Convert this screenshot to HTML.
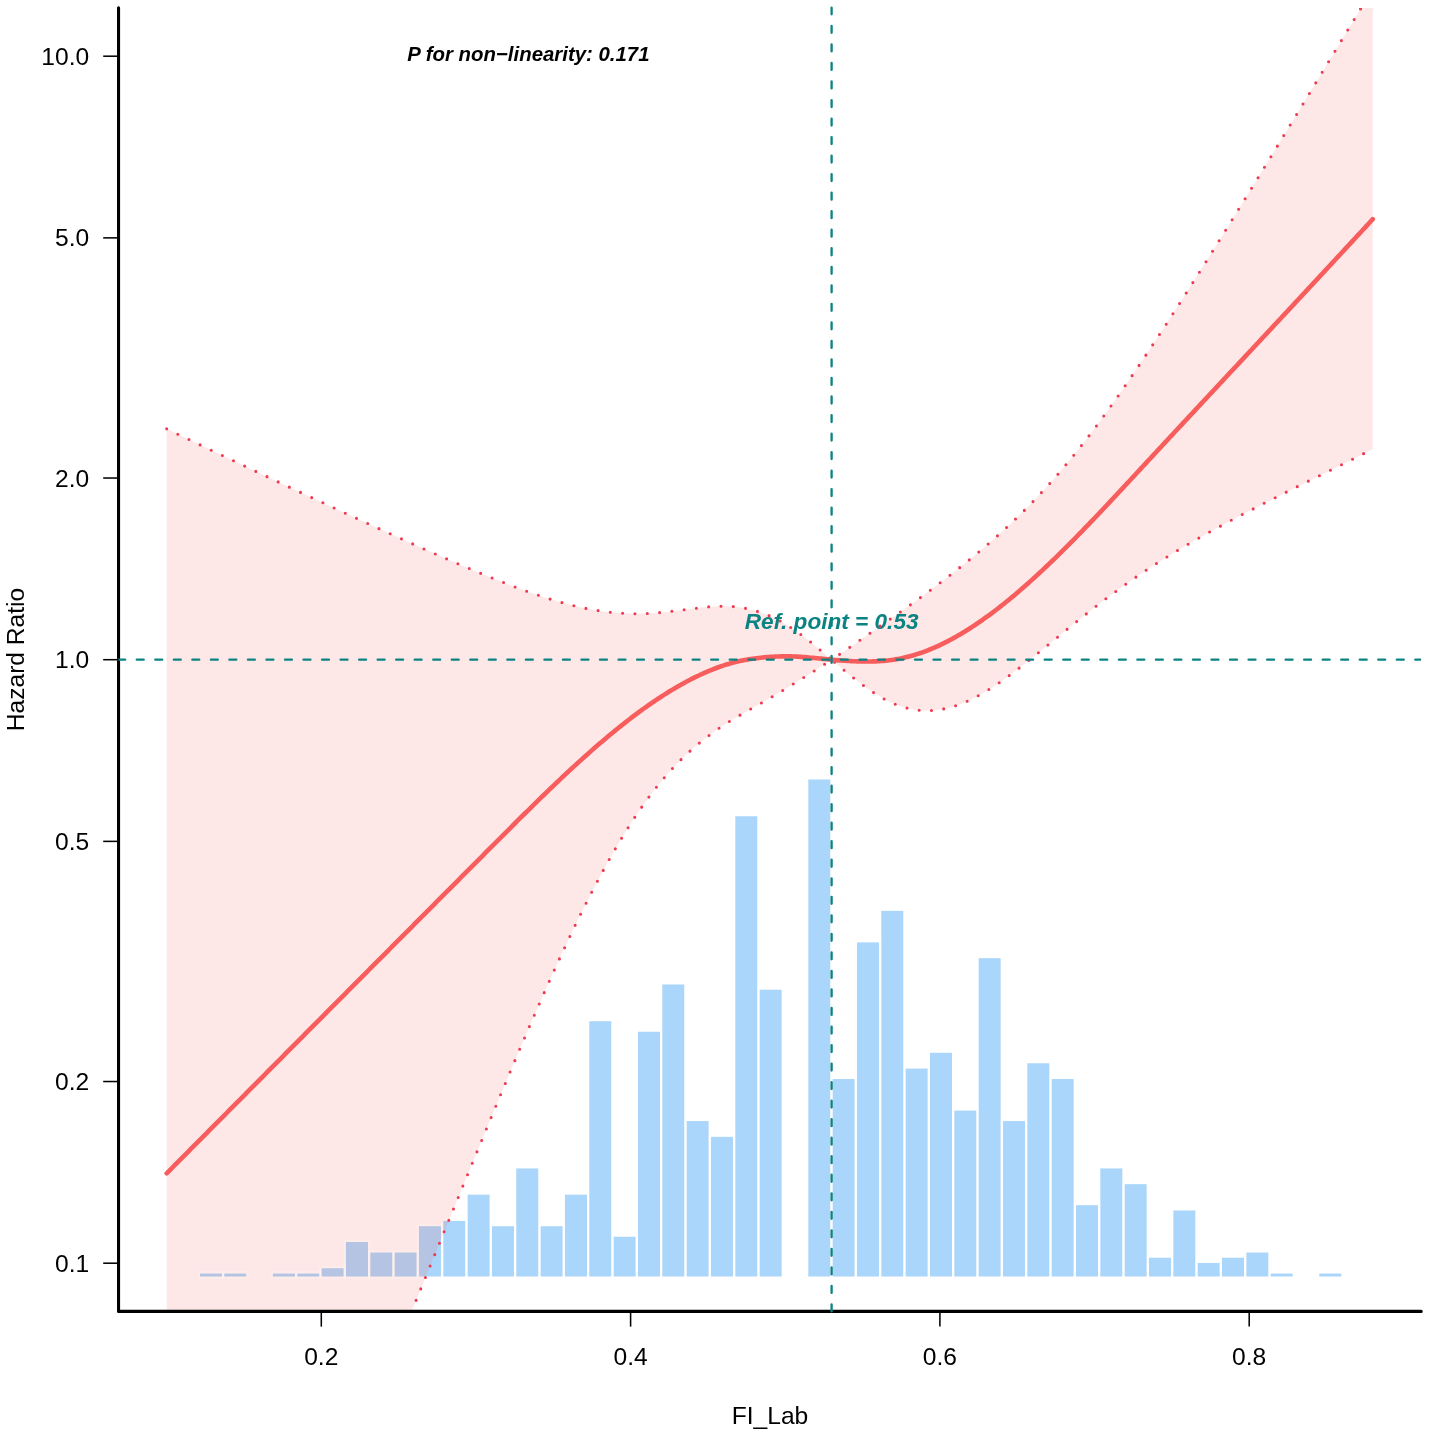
<!DOCTYPE html>
<html><head><meta charset="utf-8"><title>RCS Hazard Ratio</title>
<style>
html,body{margin:0;padding:0;background:#fff}
svg{display:block;will-change:transform}
text{font-family:"Liberation Sans",sans-serif}
</style></head>
<body>
<svg width="1429" height="1435" viewBox="0 0 1429 1435">
<rect width="1429" height="1435" fill="#fff"/>
<defs><clipPath id="plot"><rect x="118.55" y="7.90" width="1302.65" height="1303.50"/></clipPath></defs>
<g fill="#A9D6FA"><rect x="199.90" y="1273.50" width="22.05" height="3.05"/><rect x="224.24" y="1273.50" width="22.05" height="3.05"/><rect x="272.90" y="1273.50" width="22.05" height="3.05"/><rect x="297.24" y="1273.50" width="22.05" height="3.05"/><rect x="321.58" y="1268.24" width="22.05" height="8.31"/><rect x="345.91" y="1241.96" width="22.05" height="34.59"/><rect x="370.25" y="1252.48" width="22.05" height="24.07"/><rect x="394.58" y="1252.48" width="22.05" height="24.07"/><rect x="418.92" y="1226.20" width="22.05" height="50.35"/><rect x="443.25" y="1220.94" width="22.05" height="55.61"/><rect x="467.59" y="1194.66" width="22.05" height="81.89"/><rect x="491.92" y="1226.20" width="22.05" height="50.35"/><rect x="516.25" y="1168.38" width="22.05" height="108.17"/><rect x="540.59" y="1226.20" width="22.05" height="50.35"/><rect x="564.93" y="1194.66" width="22.05" height="81.89"/><rect x="589.26" y="1021.21" width="22.05" height="255.34"/><rect x="613.60" y="1236.71" width="22.05" height="39.84"/><rect x="637.93" y="1031.72" width="22.05" height="244.83"/><rect x="662.26" y="984.42" width="22.05" height="292.13"/><rect x="686.60" y="1121.08" width="22.05" height="155.47"/><rect x="710.94" y="1136.84" width="22.05" height="139.71"/><rect x="735.27" y="816.23" width="22.05" height="460.32"/><rect x="759.61" y="989.68" width="22.05" height="286.87"/><rect x="808.27" y="779.44" width="22.05" height="497.11"/><rect x="832.61" y="1079.03" width="22.05" height="197.52"/><rect x="856.95" y="942.37" width="22.05" height="334.18"/><rect x="881.28" y="910.84" width="22.05" height="365.71"/><rect x="905.62" y="1068.52" width="22.05" height="208.03"/><rect x="929.95" y="1052.75" width="22.05" height="223.80"/><rect x="954.28" y="1110.56" width="22.05" height="165.99"/><rect x="978.62" y="958.14" width="22.05" height="318.41"/><rect x="1002.96" y="1121.08" width="22.05" height="155.47"/><rect x="1027.29" y="1063.26" width="22.05" height="213.29"/><rect x="1051.62" y="1079.03" width="22.05" height="197.52"/><rect x="1075.96" y="1205.17" width="22.05" height="71.38"/><rect x="1100.30" y="1168.38" width="22.05" height="108.17"/><rect x="1124.63" y="1184.15" width="22.05" height="92.40"/><rect x="1148.97" y="1257.73" width="22.05" height="18.82"/><rect x="1173.30" y="1210.43" width="22.05" height="66.12"/><rect x="1197.63" y="1262.99" width="22.05" height="13.56"/><rect x="1221.97" y="1257.73" width="22.05" height="18.82"/><rect x="1246.31" y="1252.48" width="22.05" height="24.07"/><rect x="1270.64" y="1273.50" width="22.05" height="3.05"/><rect x="1319.31" y="1273.50" width="22.05" height="3.05"/></g>
<g clip-path="url(#plot)">
<path d="M166.70,428.87 L168.71,429.84 L170.73,430.81 L172.74,431.78 L174.75,432.75 L176.77,433.71 L178.78,434.68 L180.79,435.65 L182.81,436.62 L184.82,437.58 L186.84,438.55 L188.85,439.52 L190.86,440.48 L192.88,441.45 L194.89,442.41 L196.90,443.37 L198.92,444.34 L200.93,445.30 L202.94,446.26 L204.96,447.22 L206.97,448.18 L208.98,449.14 L211.00,450.11 L213.01,451.07 L215.02,452.02 L217.04,452.98 L219.05,453.94 L221.07,454.90 L223.08,455.86 L225.09,456.82 L227.11,457.77 L229.12,458.73 L231.13,459.69 L233.15,460.64 L235.16,461.60 L237.17,462.55 L239.19,463.51 L241.20,464.46 L243.21,465.41 L245.23,466.37 L247.24,467.32 L249.25,468.27 L251.27,469.22 L253.28,470.17 L255.29,471.13 L257.31,472.08 L259.32,473.03 L261.34,473.98 L263.35,474.93 L265.36,475.88 L267.38,476.82 L269.39,477.77 L271.40,478.72 L273.42,479.67 L275.43,480.61 L277.44,481.56 L279.46,482.51 L281.47,483.45 L283.48,484.40 L285.50,485.34 L287.51,486.29 L289.52,487.23 L291.54,488.18 L293.55,489.12 L295.57,490.06 L297.58,491.00 L299.59,491.95 L301.61,492.89 L303.62,493.83 L305.63,494.77 L307.65,495.71 L309.66,496.65 L311.67,497.59 L313.69,498.53 L315.70,499.46 L317.71,500.40 L319.73,501.34 L321.74,502.28 L323.75,503.21 L325.77,504.15 L327.78,505.08 L329.80,506.02 L331.81,506.95 L333.82,507.89 L335.84,508.82 L337.85,509.75 L339.86,510.68 L341.88,511.62 L343.89,512.55 L345.90,513.48 L347.92,514.41 L349.93,515.34 L351.94,516.26 L353.96,517.19 L355.97,518.12 L357.98,519.05 L360.00,519.97 L362.01,520.90 L364.03,521.82 L366.04,522.75 L368.05,523.67 L370.07,524.59 L372.08,525.51 L374.09,526.43 L376.11,527.35 L378.12,528.27 L380.13,529.19 L382.15,530.11 L384.16,531.02 L386.17,531.94 L388.19,532.85 L390.20,533.77 L392.21,534.68 L394.23,535.59 L396.24,536.50 L398.26,537.41 L400.27,538.32 L402.28,539.23 L404.30,540.13 L406.31,541.04 L408.32,541.94 L410.34,542.85 L412.35,543.75 L414.36,544.65 L416.38,545.55 L418.39,546.44 L420.40,547.34 L422.42,548.24 L424.43,549.13 L426.44,550.02 L428.46,550.91 L430.47,551.80 L432.48,552.69 L434.50,553.57 L436.51,554.46 L438.53,555.34 L440.54,556.22 L442.55,557.10 L444.57,557.98 L446.58,558.85 L448.59,559.73 L450.61,560.60 L452.62,561.47 L454.63,562.34 L456.65,563.20 L458.66,564.06 L460.67,564.92 L462.69,565.78 L464.70,566.64 L466.71,567.49 L468.73,568.34 L470.74,569.19 L472.76,570.04 L474.77,570.88 L476.78,571.72 L478.80,572.56 L480.81,573.39 L482.82,574.22 L484.84,575.05 L486.85,575.88 L488.86,576.70 L490.88,577.51 L492.89,578.33 L494.90,579.14 L496.92,579.95 L498.93,580.75 L500.94,581.54 L502.96,582.34 L504.97,583.13 L506.99,583.91 L509.00,584.69 L511.01,585.46 L513.03,586.23 L515.04,586.99 L517.05,587.74 L519.07,588.49 L521.08,589.24 L523.09,589.97 L525.11,590.70 L527.12,591.43 L529.13,592.14 L531.15,592.85 L533.16,593.55 L535.17,594.24 L537.19,594.93 L539.20,595.60 L541.22,596.27 L543.23,596.93 L545.24,597.58 L547.26,598.22 L549.27,598.85 L551.28,599.48 L553.30,600.09 L555.31,600.69 L557.32,601.28 L559.34,601.86 L561.35,602.43 L563.36,602.99 L565.38,603.54 L567.39,604.07 L569.40,604.59 L571.42,605.11 L573.43,605.60 L575.45,606.09 L577.46,606.56 L579.47,607.02 L581.49,607.47 L583.50,607.91 L585.51,608.32 L587.53,608.73 L589.54,609.12 L591.55,609.50 L593.57,609.86 L595.58,610.20 L597.59,610.54 L599.61,610.85 L601.62,611.15 L603.63,611.43 L605.65,611.70 L607.66,611.95 L609.67,612.19 L611.69,612.40 L613.70,612.60 L615.72,612.79 L617.73,612.95 L619.74,613.10 L621.76,613.24 L623.77,613.35 L625.78,613.45 L627.80,613.53 L629.81,613.59 L631.82,613.63 L633.84,613.66 L635.85,613.67 L637.86,613.66 L639.88,613.64 L641.89,613.60 L643.90,613.55 L645.92,613.47 L647.93,613.39 L649.95,613.28 L651.96,613.16 L653.97,613.03 L655.99,612.89 L658.00,612.73 L660.01,612.55 L662.03,612.37 L664.04,612.17 L666.05,611.96 L668.07,611.75 L670.08,611.52 L672.09,611.28 L674.11,611.04 L676.12,610.79 L678.13,610.54 L680.15,610.28 L682.16,610.01 L684.18,609.75 L686.19,609.48 L688.20,609.22 L690.22,608.95 L692.23,608.69 L694.24,608.43 L696.26,608.18 L698.27,607.94 L700.28,607.71 L702.30,607.48 L704.31,607.27 L706.32,607.08 L708.34,606.90 L710.35,606.73 L712.36,606.59 L714.38,606.47 L716.39,606.37 L718.41,606.29 L720.42,606.24 L722.43,606.22 L724.45,606.22 L726.46,606.26 L728.47,606.32 L730.49,606.42 L732.50,606.55 L734.51,606.72 L736.53,606.93 L738.54,607.17 L740.55,607.46 L742.57,607.78 L744.58,608.15 L746.59,608.55 L748.61,608.99 L750.62,609.48 L752.64,610.00 L754.65,610.55 L756.66,611.15 L758.68,611.78 L760.69,612.45 L762.70,613.16 L764.72,613.90 L766.73,614.68 L768.74,615.51 L770.76,616.38 L772.77,617.29 L774.78,618.25 L776.80,619.26 L778.81,620.31 L780.82,621.41 L782.84,622.55 L784.85,623.73 L786.86,624.96 L788.88,626.22 L790.89,627.53 L792.91,628.87 L794.92,630.25 L796.93,631.66 L798.95,633.11 L800.96,634.59 L802.97,636.11 L804.99,637.65 L807.00,639.22 L809.01,640.81 L811.03,642.42 L813.04,644.06 L815.05,645.71 L817.07,647.38 L819.08,649.07 L821.09,650.76 L823.11,652.46 L825.12,654.18 L827.14,655.89 L829.15,657.61 L831.16,659.33 L831.60,659.70 L833.18,658.66 L835.19,657.31 L837.20,655.96 L839.22,654.60 L841.23,653.23 L843.24,651.86 L845.26,650.47 L847.27,649.08 L849.28,647.68 L851.30,646.27 L853.31,644.86 L855.32,643.45 L857.34,642.04 L859.35,640.62 L861.37,639.20 L863.38,637.79 L865.39,636.37 L867.41,634.96 L869.42,633.55 L871.43,632.14 L873.45,630.74 L875.46,629.34 L877.47,627.95 L879.49,626.55 L881.50,625.16 L883.51,623.77 L885.53,622.38 L887.54,620.99 L889.55,619.59 L891.57,618.20 L893.58,616.80 L895.60,615.39 L897.61,613.99 L899.62,612.57 L901.64,611.15 L903.65,609.72 L905.66,608.29 L907.68,606.84 L909.69,605.40 L911.70,603.94 L913.72,602.48 L915.73,601.02 L917.74,599.54 L919.76,598.07 L921.77,596.58 L923.78,595.09 L925.80,593.60 L927.81,592.10 L929.83,590.60 L931.84,589.09 L933.85,587.57 L935.87,586.05 L937.88,584.52 L939.89,582.99 L941.91,581.46 L943.92,579.91 L945.93,578.36 L947.95,576.81 L949.96,575.25 L951.97,573.68 L953.99,572.10 L956.00,570.52 L958.01,568.93 L960.03,567.33 L962.04,565.72 L964.05,564.11 L966.07,562.49 L968.08,560.86 L970.10,559.22 L972.11,557.57 L974.12,555.91 L976.14,554.24 L978.15,552.56 L980.16,550.87 L982.18,549.17 L984.19,547.45 L986.20,545.73 L988.22,543.99 L990.23,542.24 L992.24,540.48 L994.26,538.70 L996.27,536.91 L998.28,535.11 L1000.30,533.29 L1002.31,531.46 L1004.33,529.62 L1006.34,527.75 L1008.35,525.88 L1010.37,523.98 L1012.38,522.08 L1014.39,520.15 L1016.41,518.21 L1018.42,516.25 L1020.43,514.28 L1022.45,512.29 L1024.46,510.28 L1026.47,508.25 L1028.49,506.21 L1030.50,504.15 L1032.51,502.07 L1034.53,499.97 L1036.54,497.85 L1038.56,495.72 L1040.57,493.56 L1042.58,491.39 L1044.60,489.19 L1046.61,486.98 L1048.62,484.75 L1050.64,482.50 L1052.65,480.23 L1054.66,477.94 L1056.68,475.63 L1058.69,473.30 L1060.70,470.95 L1062.72,468.58 L1064.73,466.19 L1066.74,463.78 L1068.76,461.35 L1070.77,458.90 L1072.79,456.44 L1074.80,453.95 L1076.81,451.44 L1078.83,448.91 L1080.84,446.36 L1082.85,443.80 L1084.87,441.21 L1086.88,438.61 L1088.89,435.98 L1090.91,433.34 L1092.92,430.68 L1094.93,428.00 L1096.95,425.31 L1098.96,422.59 L1100.97,419.86 L1102.99,417.11 L1105.00,414.34 L1107.02,411.56 L1109.03,408.76 L1111.04,405.95 L1113.06,403.12 L1115.07,400.27 L1117.08,397.41 L1119.10,394.54 L1121.11,391.65 L1123.12,388.75 L1125.14,385.83 L1127.15,382.90 L1129.16,379.96 L1131.18,377.01 L1133.19,374.05 L1135.20,371.07 L1137.22,368.09 L1139.23,365.09 L1141.24,362.09 L1143.26,359.07 L1145.27,356.05 L1147.29,353.02 L1149.30,349.98 L1151.31,346.93 L1153.33,343.88 L1155.34,340.81 L1157.35,337.74 L1159.37,334.67 L1161.38,331.58 L1163.39,328.49 L1165.41,325.39 L1167.42,322.29 L1169.43,319.18 L1171.45,316.06 L1173.46,312.94 L1175.47,309.81 L1177.49,306.67 L1179.50,303.53 L1181.52,300.38 L1183.53,297.23 L1185.54,294.08 L1187.56,290.91 L1189.57,287.74 L1191.58,284.57 L1193.60,281.40 L1195.61,278.21 L1197.62,275.03 L1199.64,271.84 L1201.65,268.64 L1203.66,265.44 L1205.68,262.24 L1207.69,259.03 L1209.70,255.82 L1211.72,252.60 L1213.73,249.38 L1215.75,246.16 L1217.76,242.93 L1219.77,239.70 L1221.79,236.46 L1223.80,233.23 L1225.81,229.99 L1227.83,226.74 L1229.84,223.49 L1231.85,220.24 L1233.87,216.99 L1235.88,213.73 L1237.89,210.47 L1239.91,207.21 L1241.92,203.95 L1243.93,200.68 L1245.95,197.41 L1247.96,194.14 L1249.98,190.87 L1251.99,187.59 L1254.00,184.31 L1256.02,181.03 L1258.03,177.74 L1260.04,174.46 L1262.06,171.17 L1264.07,167.88 L1266.08,164.59 L1268.10,161.29 L1270.11,158.00 L1272.12,154.70 L1274.14,151.40 L1276.15,148.10 L1278.16,144.80 L1280.18,141.50 L1282.19,138.19 L1284.21,134.88 L1286.22,131.58 L1288.23,128.27 L1290.25,124.96 L1292.26,121.64 L1294.27,118.33 L1296.29,115.02 L1298.30,111.70 L1300.31,108.38 L1302.33,105.07 L1304.34,101.75 L1306.35,98.43 L1308.37,95.11 L1310.38,91.79 L1312.39,88.47 L1314.41,85.14 L1316.42,81.82 L1318.43,78.50 L1320.45,75.17 L1322.46,71.85 L1324.48,68.52 L1326.49,65.20 L1328.50,61.87 L1330.52,58.54 L1332.53,55.22 L1334.54,51.89 L1336.56,48.56 L1338.57,45.23 L1340.58,41.91 L1342.60,38.58 L1344.61,35.25 L1346.62,31.92 L1348.64,28.59 L1350.65,25.27 L1352.66,21.94 L1354.68,18.61 L1356.69,15.28 L1358.71,11.96 L1360.72,8.63 L1362.73,5.31 L1364.75,1.98 L1366.76,-1.35 L1368.77,-4.67 L1370.79,-8.00 L1372.80,-11.32 L1372.80,448.98 L1370.79,450.00 L1368.77,451.03 L1366.76,452.05 L1364.75,453.07 L1362.73,454.08 L1360.72,455.10 L1358.71,456.11 L1356.69,457.12 L1354.68,458.13 L1352.66,459.14 L1350.65,460.15 L1348.64,461.16 L1346.62,462.16 L1344.61,463.17 L1342.60,464.17 L1340.58,465.17 L1338.57,466.17 L1336.56,467.17 L1334.54,468.17 L1332.53,469.17 L1330.52,470.17 L1328.50,471.17 L1326.49,472.16 L1324.48,473.16 L1322.46,474.16 L1320.45,475.15 L1318.43,476.15 L1316.42,477.15 L1314.41,478.14 L1312.39,479.14 L1310.38,480.14 L1308.37,481.14 L1306.35,482.13 L1304.34,483.13 L1302.33,484.13 L1300.31,485.13 L1298.30,486.13 L1296.29,487.13 L1294.27,488.13 L1292.26,489.13 L1290.25,490.14 L1288.23,491.14 L1286.22,492.15 L1284.21,493.15 L1282.19,494.16 L1280.18,495.17 L1278.16,496.18 L1276.15,497.19 L1274.14,498.21 L1272.12,499.22 L1270.11,500.24 L1268.10,501.26 L1266.08,502.28 L1264.07,503.31 L1262.06,504.33 L1260.04,505.36 L1258.03,506.39 L1256.02,507.42 L1254.00,508.46 L1251.99,509.49 L1249.98,510.53 L1247.96,511.58 L1245.95,512.62 L1243.93,513.67 L1241.92,514.72 L1239.91,515.78 L1237.89,516.83 L1235.88,517.89 L1233.87,518.96 L1231.85,520.03 L1229.84,521.10 L1227.83,522.17 L1225.81,523.25 L1223.80,524.33 L1221.79,525.42 L1219.77,526.51 L1217.76,527.60 L1215.75,528.70 L1213.73,529.80 L1211.72,530.91 L1209.70,532.02 L1207.69,533.14 L1205.68,534.26 L1203.66,535.39 L1201.65,536.52 L1199.64,537.66 L1197.62,538.80 L1195.61,539.95 L1193.60,541.10 L1191.58,542.26 L1189.57,543.42 L1187.56,544.59 L1185.54,545.77 L1183.53,546.95 L1181.52,548.14 L1179.50,549.34 L1177.49,550.54 L1175.47,551.75 L1173.46,552.96 L1171.45,554.19 L1169.43,555.42 L1167.42,556.65 L1165.41,557.90 L1163.39,559.15 L1161.38,560.41 L1159.37,561.68 L1157.35,562.96 L1155.34,564.25 L1153.33,565.54 L1151.31,566.85 L1149.30,568.16 L1147.29,569.48 L1145.27,570.81 L1143.26,572.15 L1141.24,573.50 L1139.23,574.86 L1137.22,576.24 L1135.20,577.62 L1133.19,579.01 L1131.18,580.41 L1129.16,581.82 L1127.15,583.23 L1125.14,584.66 L1123.12,586.10 L1121.11,587.55 L1119.10,589.01 L1117.08,590.47 L1115.07,591.95 L1113.06,593.43 L1111.04,594.93 L1109.03,596.43 L1107.02,597.94 L1105.00,599.46 L1102.99,600.98 L1100.97,602.52 L1098.96,604.06 L1096.95,605.61 L1094.93,607.17 L1092.92,608.74 L1090.91,610.31 L1088.89,611.89 L1086.88,613.47 L1084.87,615.06 L1082.85,616.66 L1080.84,618.27 L1078.83,619.88 L1076.81,621.49 L1074.80,623.11 L1072.79,624.73 L1070.77,626.36 L1068.76,627.99 L1066.74,629.63 L1064.73,631.27 L1062.72,632.91 L1060.70,634.55 L1058.69,636.20 L1056.68,637.85 L1054.66,639.49 L1052.65,641.14 L1050.64,642.79 L1048.62,644.43 L1046.61,646.08 L1044.60,647.72 L1042.58,649.36 L1040.57,651.00 L1038.56,652.64 L1036.54,654.27 L1034.53,655.89 L1032.51,657.51 L1030.50,659.12 L1028.49,660.73 L1026.47,662.33 L1024.46,663.92 L1022.45,665.50 L1020.43,667.07 L1018.42,668.63 L1016.41,670.18 L1014.39,671.71 L1012.38,673.23 L1010.37,674.74 L1008.35,676.22 L1006.34,677.69 L1004.33,679.14 L1002.31,680.57 L1000.30,681.98 L998.28,683.37 L996.27,684.73 L994.26,686.07 L992.24,687.39 L990.23,688.67 L988.22,689.94 L986.20,691.17 L984.19,692.37 L982.18,693.55 L980.16,694.69 L978.15,695.80 L976.14,696.88 L974.12,697.93 L972.11,698.93 L970.10,699.91 L968.08,700.84 L966.07,701.74 L964.05,702.60 L962.04,703.42 L960.03,704.19 L958.01,704.93 L956.00,705.62 L953.99,706.27 L951.97,706.88 L949.96,707.44 L947.95,707.96 L945.93,708.43 L943.92,708.85 L941.91,709.23 L939.89,709.57 L937.88,709.85 L935.87,710.09 L933.85,710.28 L931.84,710.43 L929.83,710.52 L927.81,710.57 L925.80,710.56 L923.78,710.51 L921.77,710.41 L919.76,710.26 L917.74,710.05 L915.73,709.80 L913.72,709.49 L911.70,709.14 L909.69,708.73 L907.68,708.27 L905.66,707.76 L903.65,707.19 L901.64,706.57 L899.62,705.90 L897.61,705.18 L895.60,704.40 L893.58,703.57 L891.57,702.69 L889.55,701.76 L887.54,700.77 L885.53,699.74 L883.51,698.66 L881.50,697.52 L879.49,696.35 L877.47,695.12 L875.46,693.85 L873.45,692.54 L871.43,691.19 L869.42,689.81 L867.41,688.39 L865.39,686.95 L863.38,685.48 L861.37,683.98 L859.35,682.46 L857.34,680.92 L855.32,679.35 L853.31,677.76 L851.30,676.16 L849.28,674.53 L847.27,672.89 L845.26,671.24 L843.24,669.57 L841.23,667.88 L839.22,666.19 L837.20,664.48 L835.19,662.77 L833.18,661.05 L831.60,659.70 L831.16,659.99 L829.15,661.32 L827.14,662.64 L825.12,663.96 L823.11,665.26 L821.09,666.56 L819.08,667.86 L817.07,669.14 L815.05,670.42 L813.04,671.69 L811.03,672.96 L809.01,674.23 L807.00,675.49 L804.99,676.74 L802.97,677.99 L800.96,679.25 L798.95,680.49 L796.93,681.74 L794.92,682.98 L792.91,684.23 L790.89,685.47 L788.88,686.70 L786.86,687.93 L784.85,689.16 L782.84,690.39 L780.82,691.60 L778.81,692.82 L776.80,694.02 L774.78,695.22 L772.77,696.42 L770.76,697.60 L768.74,698.78 L766.73,699.95 L764.72,701.11 L762.70,702.27 L760.69,703.42 L758.68,704.55 L756.66,705.69 L754.65,706.82 L752.64,707.95 L750.62,709.07 L748.61,710.20 L746.59,711.34 L744.58,712.48 L742.57,713.64 L740.55,714.80 L738.54,715.98 L736.53,717.17 L734.51,718.38 L732.50,719.61 L730.49,720.85 L728.47,722.11 L726.46,723.40 L724.45,724.70 L722.43,726.03 L720.42,727.37 L718.41,728.74 L716.39,730.14 L714.38,731.56 L712.36,733.00 L710.35,734.48 L708.34,735.98 L706.32,737.51 L704.31,739.07 L702.30,740.66 L700.28,742.28 L698.27,743.94 L696.26,745.63 L694.24,747.36 L692.23,749.12 L690.22,750.91 L688.20,752.75 L686.19,754.62 L684.18,756.54 L682.16,758.49 L680.15,760.48 L678.13,762.52 L676.12,764.59 L674.11,766.72 L672.09,768.88 L670.08,771.09 L668.07,773.34 L666.05,775.64 L664.04,777.99 L662.03,780.38 L660.01,782.81 L658.00,785.30 L655.99,787.83 L653.97,790.41 L651.96,793.03 L649.95,795.71 L647.93,798.43 L645.92,801.19 L643.90,804.01 L641.89,806.87 L639.88,809.77 L637.86,812.73 L635.85,815.73 L633.84,818.77 L631.82,821.86 L629.81,825.00 L627.80,828.18 L625.78,831.40 L623.77,834.67 L621.76,837.98 L619.74,841.34 L617.73,844.74 L615.72,848.18 L613.70,851.66 L611.69,855.18 L609.67,858.74 L607.66,862.34 L605.65,865.98 L603.63,869.66 L601.62,873.38 L599.61,877.13 L597.59,880.92 L595.58,884.75 L593.57,888.61 L591.55,892.51 L589.54,896.44 L587.53,900.40 L585.51,904.40 L583.50,908.43 L581.49,912.49 L579.47,916.59 L577.46,920.71 L575.45,924.86 L573.43,929.05 L571.42,933.26 L569.40,937.50 L567.39,941.76 L565.38,946.06 L563.36,950.37 L561.35,954.72 L559.34,959.09 L557.32,963.48 L555.31,967.90 L553.30,972.34 L551.28,976.81 L549.27,981.29 L547.26,985.80 L545.24,990.33 L543.23,994.87 L541.22,999.44 L539.20,1004.03 L537.19,1008.63 L535.17,1013.26 L533.16,1017.89 L531.15,1022.55 L529.13,1027.22 L527.12,1031.91 L525.11,1036.61 L523.09,1041.33 L521.08,1046.06 L519.07,1050.80 L517.05,1055.55 L515.04,1060.32 L513.03,1065.09 L511.01,1069.88 L509.00,1074.68 L506.99,1079.48 L504.97,1084.30 L502.96,1089.12 L500.94,1093.95 L498.93,1098.79 L496.92,1103.63 L494.90,1108.48 L492.89,1113.34 L490.88,1118.19 L488.86,1123.06 L486.85,1127.92 L484.84,1132.79 L482.82,1137.66 L480.81,1142.54 L478.80,1147.42 L476.78,1152.30 L474.77,1157.19 L472.76,1162.07 L470.74,1166.96 L468.73,1171.86 L466.71,1176.75 L464.70,1181.65 L462.69,1186.55 L460.67,1191.45 L458.66,1196.36 L456.65,1201.26 L454.63,1206.17 L452.62,1211.08 L450.61,1215.99 L448.59,1220.90 L446.58,1225.82 L444.57,1230.73 L442.55,1235.65 L440.54,1240.57 L438.53,1245.49 L436.51,1250.41 L434.50,1255.33 L432.48,1260.26 L430.47,1265.18 L428.46,1270.10 L426.44,1275.03 L424.43,1279.96 L422.42,1284.88 L420.40,1289.81 L418.39,1294.74 L416.38,1299.66 L414.36,1304.61 L412.35,1309.56 L410.34,1314.51 L408.32,1319.46 L406.31,1324.41 L404.30,1329.36 L402.28,1334.32 L400.27,1339.28 L398.26,1344.23 L396.24,1349.19 L394.23,1354.15 L392.21,1359.11 L390.20,1364.07 L388.19,1369.04 L386.17,1374.00 L384.16,1378.96 L382.15,1383.93 L380.13,1388.90 L378.12,1393.87 L376.11,1398.83 L374.09,1403.80 L372.08,1408.77 L370.07,1413.75 L368.05,1418.72 L366.04,1423.69 L364.03,1428.66 L362.01,1433.64 L360.00,1438.62 L357.98,1443.59 L355.97,1448.57 L353.96,1453.55 L351.94,1458.53 L349.93,1463.50 L347.92,1468.48 L345.90,1473.47 L343.89,1478.45 L341.88,1483.43 L339.86,1488.41 L337.85,1493.40 L335.84,1498.38 L333.82,1503.36 L331.81,1508.35 L329.80,1513.34 L327.78,1518.32 L325.77,1523.31 L323.75,1528.30 L321.74,1533.29 L319.73,1538.28 L317.71,1543.27 L315.70,1548.26 L313.69,1553.25 L311.67,1558.24 L309.66,1563.23 L307.65,1568.22 L305.63,1573.22 L303.62,1578.21 L301.61,1583.20 L299.59,1588.20 L297.58,1593.19 L295.57,1598.19 L293.55,1603.18 L291.54,1608.18 L289.52,1613.18 L287.51,1618.17 L285.50,1623.17 L283.48,1628.17 L281.47,1633.17 L279.46,1638.17 L277.44,1643.17 L275.43,1648.17 L273.42,1653.17 L271.40,1658.17 L269.39,1663.17 L267.38,1668.17 L265.36,1673.17 L263.35,1678.17 L261.34,1683.18 L259.32,1688.18 L257.31,1693.18 L255.29,1698.19 L253.28,1703.19 L251.27,1708.20 L249.25,1713.20 L247.24,1718.21 L245.23,1723.21 L243.21,1728.22 L241.20,1733.22 L239.19,1738.23 L237.17,1743.24 L235.16,1748.25 L233.15,1753.25 L231.13,1758.26 L229.12,1763.27 L227.11,1768.28 L225.09,1773.29 L223.08,1778.30 L221.07,1783.31 L219.05,1788.32 L217.04,1793.33 L215.02,1798.34 L213.01,1803.35 L211.00,1808.36 L208.98,1813.37 L206.97,1818.38 L204.96,1823.39 L202.94,1828.40 L200.93,1833.42 L198.92,1838.43 L196.90,1843.44 L194.89,1848.46 L192.88,1853.47 L190.86,1858.48 L188.85,1863.50 L186.84,1868.51 L184.82,1873.53 L182.81,1878.54 L180.79,1883.56 L178.78,1888.57 L176.77,1893.59 L174.75,1898.60 L172.74,1903.62 L170.73,1908.64 L168.71,1913.65 L166.70,1918.67Z" fill="rgb(248,92,84)" fill-opacity="0.142"/>
</g>
<g fill="none" stroke="#fff" stroke-width="2.31" stroke-opacity="0.2"><rect x="198.75" y="1272.35" width="24.36" height="5.36"/><rect x="223.08" y="1272.35" width="24.36" height="5.36"/><rect x="271.75" y="1272.35" width="24.36" height="5.36"/><rect x="296.09" y="1272.35" width="24.36" height="5.36"/><rect x="320.42" y="1267.09" width="24.36" height="10.62"/><rect x="344.75" y="1240.81" width="24.36" height="36.90"/><rect x="369.09" y="1251.32" width="24.36" height="26.38"/><rect x="393.43" y="1251.32" width="24.36" height="26.38"/><rect x="417.76" y="1225.04" width="24.36" height="52.66"/><rect x="442.10" y="1219.79" width="24.36" height="57.92"/><rect x="466.43" y="1193.51" width="24.36" height="84.20"/><rect x="490.76" y="1225.04" width="24.36" height="52.66"/><rect x="515.10" y="1167.23" width="24.36" height="110.48"/><rect x="539.44" y="1225.04" width="24.36" height="52.66"/><rect x="563.77" y="1193.51" width="24.36" height="84.20"/><rect x="588.11" y="1020.06" width="24.36" height="257.65"/><rect x="612.44" y="1235.55" width="24.36" height="42.15"/><rect x="636.78" y="1030.57" width="24.36" height="247.14"/><rect x="661.11" y="983.26" width="24.36" height="294.44"/><rect x="685.45" y="1119.92" width="24.36" height="157.78"/><rect x="709.78" y="1135.69" width="24.36" height="142.02"/><rect x="734.12" y="815.07" width="24.36" height="462.63"/><rect x="758.45" y="988.52" width="24.36" height="289.18"/><rect x="807.12" y="778.28" width="24.36" height="499.42"/><rect x="831.46" y="1077.87" width="24.36" height="199.83"/><rect x="855.79" y="941.22" width="24.36" height="336.49"/><rect x="880.12" y="909.68" width="24.36" height="368.02"/><rect x="904.46" y="1067.36" width="24.36" height="210.34"/><rect x="928.80" y="1051.59" width="24.36" height="226.11"/><rect x="953.13" y="1109.41" width="24.36" height="168.30"/><rect x="977.47" y="956.99" width="24.36" height="320.72"/><rect x="1001.80" y="1119.92" width="24.36" height="157.78"/><rect x="1026.13" y="1062.11" width="24.36" height="215.60"/><rect x="1050.47" y="1077.87" width="24.36" height="199.83"/><rect x="1074.81" y="1204.02" width="24.36" height="73.69"/><rect x="1099.14" y="1167.23" width="24.36" height="110.48"/><rect x="1123.48" y="1182.99" width="24.36" height="94.71"/><rect x="1147.81" y="1256.58" width="24.36" height="21.13"/><rect x="1172.15" y="1209.27" width="24.36" height="68.43"/><rect x="1196.48" y="1261.83" width="24.36" height="15.87"/><rect x="1220.82" y="1256.58" width="24.36" height="21.13"/><rect x="1245.15" y="1251.32" width="24.36" height="26.38"/><rect x="1269.49" y="1272.35" width="24.36" height="5.36"/><rect x="1318.16" y="1272.35" width="24.36" height="5.36"/></g>
<text x="528.4" y="60.9" text-anchor="middle" font-size="20.4px" font-weight="bold" font-style="italic" fill="#000">P for non&#8722;linearity: 0.171</text>
<text x="831.6" y="628.9" text-anchor="middle" font-size="22.6px" font-weight="bold" font-style="italic" fill="#0B8383">Ref. point = 0.53</text>
<g clip-path="url(#plot)">
<path d="M166.70,428.87 L168.71,429.84 L170.73,430.81 L172.74,431.78 L174.75,432.75 L176.77,433.71 L178.78,434.68 L180.79,435.65 L182.81,436.62 L184.82,437.58 L186.84,438.55 L188.85,439.52 L190.86,440.48 L192.88,441.45 L194.89,442.41 L196.90,443.37 L198.92,444.34 L200.93,445.30 L202.94,446.26 L204.96,447.22 L206.97,448.18 L208.98,449.14 L211.00,450.11 L213.01,451.07 L215.02,452.02 L217.04,452.98 L219.05,453.94 L221.07,454.90 L223.08,455.86 L225.09,456.82 L227.11,457.77 L229.12,458.73 L231.13,459.69 L233.15,460.64 L235.16,461.60 L237.17,462.55 L239.19,463.51 L241.20,464.46 L243.21,465.41 L245.23,466.37 L247.24,467.32 L249.25,468.27 L251.27,469.22 L253.28,470.17 L255.29,471.13 L257.31,472.08 L259.32,473.03 L261.34,473.98 L263.35,474.93 L265.36,475.88 L267.38,476.82 L269.39,477.77 L271.40,478.72 L273.42,479.67 L275.43,480.61 L277.44,481.56 L279.46,482.51 L281.47,483.45 L283.48,484.40 L285.50,485.34 L287.51,486.29 L289.52,487.23 L291.54,488.18 L293.55,489.12 L295.57,490.06 L297.58,491.00 L299.59,491.95 L301.61,492.89 L303.62,493.83 L305.63,494.77 L307.65,495.71 L309.66,496.65 L311.67,497.59 L313.69,498.53 L315.70,499.46 L317.71,500.40 L319.73,501.34 L321.74,502.28 L323.75,503.21 L325.77,504.15 L327.78,505.08 L329.80,506.02 L331.81,506.95 L333.82,507.89 L335.84,508.82 L337.85,509.75 L339.86,510.68 L341.88,511.62 L343.89,512.55 L345.90,513.48 L347.92,514.41 L349.93,515.34 L351.94,516.26 L353.96,517.19 L355.97,518.12 L357.98,519.05 L360.00,519.97 L362.01,520.90 L364.03,521.82 L366.04,522.75 L368.05,523.67 L370.07,524.59 L372.08,525.51 L374.09,526.43 L376.11,527.35 L378.12,528.27 L380.13,529.19 L382.15,530.11 L384.16,531.02 L386.17,531.94 L388.19,532.85 L390.20,533.77 L392.21,534.68 L394.23,535.59 L396.24,536.50 L398.26,537.41 L400.27,538.32 L402.28,539.23 L404.30,540.13 L406.31,541.04 L408.32,541.94 L410.34,542.85 L412.35,543.75 L414.36,544.65 L416.38,545.55 L418.39,546.44 L420.40,547.34 L422.42,548.24 L424.43,549.13 L426.44,550.02 L428.46,550.91 L430.47,551.80 L432.48,552.69 L434.50,553.57 L436.51,554.46 L438.53,555.34 L440.54,556.22 L442.55,557.10 L444.57,557.98 L446.58,558.85 L448.59,559.73 L450.61,560.60 L452.62,561.47 L454.63,562.34 L456.65,563.20 L458.66,564.06 L460.67,564.92 L462.69,565.78 L464.70,566.64 L466.71,567.49 L468.73,568.34 L470.74,569.19 L472.76,570.04 L474.77,570.88 L476.78,571.72 L478.80,572.56 L480.81,573.39 L482.82,574.22 L484.84,575.05 L486.85,575.88 L488.86,576.70 L490.88,577.51 L492.89,578.33 L494.90,579.14 L496.92,579.95 L498.93,580.75 L500.94,581.54 L502.96,582.34 L504.97,583.13 L506.99,583.91 L509.00,584.69 L511.01,585.46 L513.03,586.23 L515.04,586.99 L517.05,587.74 L519.07,588.49 L521.08,589.24 L523.09,589.97 L525.11,590.70 L527.12,591.43 L529.13,592.14 L531.15,592.85 L533.16,593.55 L535.17,594.24 L537.19,594.93 L539.20,595.60 L541.22,596.27 L543.23,596.93 L545.24,597.58 L547.26,598.22 L549.27,598.85 L551.28,599.48 L553.30,600.09 L555.31,600.69 L557.32,601.28 L559.34,601.86 L561.35,602.43 L563.36,602.99 L565.38,603.54 L567.39,604.07 L569.40,604.59 L571.42,605.11 L573.43,605.60 L575.45,606.09 L577.46,606.56 L579.47,607.02 L581.49,607.47 L583.50,607.91 L585.51,608.32 L587.53,608.73 L589.54,609.12 L591.55,609.50 L593.57,609.86 L595.58,610.20 L597.59,610.54 L599.61,610.85 L601.62,611.15 L603.63,611.43 L605.65,611.70 L607.66,611.95 L609.67,612.19 L611.69,612.40 L613.70,612.60 L615.72,612.79 L617.73,612.95 L619.74,613.10 L621.76,613.24 L623.77,613.35 L625.78,613.45 L627.80,613.53 L629.81,613.59 L631.82,613.63 L633.84,613.66 L635.85,613.67 L637.86,613.66 L639.88,613.64 L641.89,613.60 L643.90,613.55 L645.92,613.47 L647.93,613.39 L649.95,613.28 L651.96,613.16 L653.97,613.03 L655.99,612.89 L658.00,612.73 L660.01,612.55 L662.03,612.37 L664.04,612.17 L666.05,611.96 L668.07,611.75 L670.08,611.52 L672.09,611.28 L674.11,611.04 L676.12,610.79 L678.13,610.54 L680.15,610.28 L682.16,610.01 L684.18,609.75 L686.19,609.48 L688.20,609.22 L690.22,608.95 L692.23,608.69 L694.24,608.43 L696.26,608.18 L698.27,607.94 L700.28,607.71 L702.30,607.48 L704.31,607.27 L706.32,607.08 L708.34,606.90 L710.35,606.73 L712.36,606.59 L714.38,606.47 L716.39,606.37 L718.41,606.29 L720.42,606.24 L722.43,606.22 L724.45,606.22 L726.46,606.26 L728.47,606.32 L730.49,606.42 L732.50,606.55 L734.51,606.72 L736.53,606.93 L738.54,607.17 L740.55,607.46 L742.57,607.78 L744.58,608.15 L746.59,608.55 L748.61,608.99 L750.62,609.48 L752.64,610.00 L754.65,610.55 L756.66,611.15 L758.68,611.78 L760.69,612.45 L762.70,613.16 L764.72,613.90 L766.73,614.68 L768.74,615.51 L770.76,616.38 L772.77,617.29 L774.78,618.25 L776.80,619.26 L778.81,620.31 L780.82,621.41 L782.84,622.55 L784.85,623.73 L786.86,624.96 L788.88,626.22 L790.89,627.53 L792.91,628.87 L794.92,630.25 L796.93,631.66 L798.95,633.11 L800.96,634.59 L802.97,636.11 L804.99,637.65 L807.00,639.22 L809.01,640.81 L811.03,642.42 L813.04,644.06 L815.05,645.71 L817.07,647.38 L819.08,649.07 L821.09,650.76 L823.11,652.46 L825.12,654.18 L827.14,655.89 L829.15,657.61 L831.16,659.33 L831.60,659.70 L833.18,658.66 L835.19,657.31 L837.20,655.96 L839.22,654.60 L841.23,653.23 L843.24,651.86 L845.26,650.47 L847.27,649.08 L849.28,647.68 L851.30,646.27 L853.31,644.86 L855.32,643.45 L857.34,642.04 L859.35,640.62 L861.37,639.20 L863.38,637.79 L865.39,636.37 L867.41,634.96 L869.42,633.55 L871.43,632.14 L873.45,630.74 L875.46,629.34 L877.47,627.95 L879.49,626.55 L881.50,625.16 L883.51,623.77 L885.53,622.38 L887.54,620.99 L889.55,619.59 L891.57,618.20 L893.58,616.80 L895.60,615.39 L897.61,613.99 L899.62,612.57 L901.64,611.15 L903.65,609.72 L905.66,608.29 L907.68,606.84 L909.69,605.40 L911.70,603.94 L913.72,602.48 L915.73,601.02 L917.74,599.54 L919.76,598.07 L921.77,596.58 L923.78,595.09 L925.80,593.60 L927.81,592.10 L929.83,590.60 L931.84,589.09 L933.85,587.57 L935.87,586.05 L937.88,584.52 L939.89,582.99 L941.91,581.46 L943.92,579.91 L945.93,578.36 L947.95,576.81 L949.96,575.25 L951.97,573.68 L953.99,572.10 L956.00,570.52 L958.01,568.93 L960.03,567.33 L962.04,565.72 L964.05,564.11 L966.07,562.49 L968.08,560.86 L970.10,559.22 L972.11,557.57 L974.12,555.91 L976.14,554.24 L978.15,552.56 L980.16,550.87 L982.18,549.17 L984.19,547.45 L986.20,545.73 L988.22,543.99 L990.23,542.24 L992.24,540.48 L994.26,538.70 L996.27,536.91 L998.28,535.11 L1000.30,533.29 L1002.31,531.46 L1004.33,529.62 L1006.34,527.75 L1008.35,525.88 L1010.37,523.98 L1012.38,522.08 L1014.39,520.15 L1016.41,518.21 L1018.42,516.25 L1020.43,514.28 L1022.45,512.29 L1024.46,510.28 L1026.47,508.25 L1028.49,506.21 L1030.50,504.15 L1032.51,502.07 L1034.53,499.97 L1036.54,497.85 L1038.56,495.72 L1040.57,493.56 L1042.58,491.39 L1044.60,489.19 L1046.61,486.98 L1048.62,484.75 L1050.64,482.50 L1052.65,480.23 L1054.66,477.94 L1056.68,475.63 L1058.69,473.30 L1060.70,470.95 L1062.72,468.58 L1064.73,466.19 L1066.74,463.78 L1068.76,461.35 L1070.77,458.90 L1072.79,456.44 L1074.80,453.95 L1076.81,451.44 L1078.83,448.91 L1080.84,446.36 L1082.85,443.80 L1084.87,441.21 L1086.88,438.61 L1088.89,435.98 L1090.91,433.34 L1092.92,430.68 L1094.93,428.00 L1096.95,425.31 L1098.96,422.59 L1100.97,419.86 L1102.99,417.11 L1105.00,414.34 L1107.02,411.56 L1109.03,408.76 L1111.04,405.95 L1113.06,403.12 L1115.07,400.27 L1117.08,397.41 L1119.10,394.54 L1121.11,391.65 L1123.12,388.75 L1125.14,385.83 L1127.15,382.90 L1129.16,379.96 L1131.18,377.01 L1133.19,374.05 L1135.20,371.07 L1137.22,368.09 L1139.23,365.09 L1141.24,362.09 L1143.26,359.07 L1145.27,356.05 L1147.29,353.02 L1149.30,349.98 L1151.31,346.93 L1153.33,343.88 L1155.34,340.81 L1157.35,337.74 L1159.37,334.67 L1161.38,331.58 L1163.39,328.49 L1165.41,325.39 L1167.42,322.29 L1169.43,319.18 L1171.45,316.06 L1173.46,312.94 L1175.47,309.81 L1177.49,306.67 L1179.50,303.53 L1181.52,300.38 L1183.53,297.23 L1185.54,294.08 L1187.56,290.91 L1189.57,287.74 L1191.58,284.57 L1193.60,281.40 L1195.61,278.21 L1197.62,275.03 L1199.64,271.84 L1201.65,268.64 L1203.66,265.44 L1205.68,262.24 L1207.69,259.03 L1209.70,255.82 L1211.72,252.60 L1213.73,249.38 L1215.75,246.16 L1217.76,242.93 L1219.77,239.70 L1221.79,236.46 L1223.80,233.23 L1225.81,229.99 L1227.83,226.74 L1229.84,223.49 L1231.85,220.24 L1233.87,216.99 L1235.88,213.73 L1237.89,210.47 L1239.91,207.21 L1241.92,203.95 L1243.93,200.68 L1245.95,197.41 L1247.96,194.14 L1249.98,190.87 L1251.99,187.59 L1254.00,184.31 L1256.02,181.03 L1258.03,177.74 L1260.04,174.46 L1262.06,171.17 L1264.07,167.88 L1266.08,164.59 L1268.10,161.29 L1270.11,158.00 L1272.12,154.70 L1274.14,151.40 L1276.15,148.10 L1278.16,144.80 L1280.18,141.50 L1282.19,138.19 L1284.21,134.88 L1286.22,131.58 L1288.23,128.27 L1290.25,124.96 L1292.26,121.64 L1294.27,118.33 L1296.29,115.02 L1298.30,111.70 L1300.31,108.38 L1302.33,105.07 L1304.34,101.75 L1306.35,98.43 L1308.37,95.11 L1310.38,91.79 L1312.39,88.47 L1314.41,85.14 L1316.42,81.82 L1318.43,78.50 L1320.45,75.17 L1322.46,71.85 L1324.48,68.52 L1326.49,65.20 L1328.50,61.87 L1330.52,58.54 L1332.53,55.22 L1334.54,51.89 L1336.56,48.56 L1338.57,45.23 L1340.58,41.91 L1342.60,38.58 L1344.61,35.25 L1346.62,31.92 L1348.64,28.59 L1350.65,25.27 L1352.66,21.94 L1354.68,18.61 L1356.69,15.28 L1358.71,11.96 L1360.72,8.63 L1362.73,5.31 L1364.75,1.98 L1366.76,-1.35 L1368.77,-4.67 L1370.79,-8.00 L1372.80,-11.32" fill="none" stroke="#EE3A50" stroke-width="3.08" stroke-linecap="round" stroke-dasharray="0 12.345" stroke-dashoffset="0.0"/>
<path d="M166.70,1918.67 L168.71,1913.65 L170.73,1908.64 L172.74,1903.62 L174.75,1898.60 L176.77,1893.59 L178.78,1888.57 L180.79,1883.56 L182.81,1878.54 L184.82,1873.53 L186.84,1868.51 L188.85,1863.50 L190.86,1858.48 L192.88,1853.47 L194.89,1848.46 L196.90,1843.44 L198.92,1838.43 L200.93,1833.42 L202.94,1828.40 L204.96,1823.39 L206.97,1818.38 L208.98,1813.37 L211.00,1808.36 L213.01,1803.35 L215.02,1798.34 L217.04,1793.33 L219.05,1788.32 L221.07,1783.31 L223.08,1778.30 L225.09,1773.29 L227.11,1768.28 L229.12,1763.27 L231.13,1758.26 L233.15,1753.25 L235.16,1748.25 L237.17,1743.24 L239.19,1738.23 L241.20,1733.22 L243.21,1728.22 L245.23,1723.21 L247.24,1718.21 L249.25,1713.20 L251.27,1708.20 L253.28,1703.19 L255.29,1698.19 L257.31,1693.18 L259.32,1688.18 L261.34,1683.18 L263.35,1678.17 L265.36,1673.17 L267.38,1668.17 L269.39,1663.17 L271.40,1658.17 L273.42,1653.17 L275.43,1648.17 L277.44,1643.17 L279.46,1638.17 L281.47,1633.17 L283.48,1628.17 L285.50,1623.17 L287.51,1618.17 L289.52,1613.18 L291.54,1608.18 L293.55,1603.18 L295.57,1598.19 L297.58,1593.19 L299.59,1588.20 L301.61,1583.20 L303.62,1578.21 L305.63,1573.22 L307.65,1568.22 L309.66,1563.23 L311.67,1558.24 L313.69,1553.25 L315.70,1548.26 L317.71,1543.27 L319.73,1538.28 L321.74,1533.29 L323.75,1528.30 L325.77,1523.31 L327.78,1518.32 L329.80,1513.34 L331.81,1508.35 L333.82,1503.36 L335.84,1498.38 L337.85,1493.40 L339.86,1488.41 L341.88,1483.43 L343.89,1478.45 L345.90,1473.47 L347.92,1468.48 L349.93,1463.50 L351.94,1458.53 L353.96,1453.55 L355.97,1448.57 L357.98,1443.59 L360.00,1438.62 L362.01,1433.64 L364.03,1428.66 L366.04,1423.69 L368.05,1418.72 L370.07,1413.75 L372.08,1408.77 L374.09,1403.80 L376.11,1398.83 L378.12,1393.87 L380.13,1388.90 L382.15,1383.93 L384.16,1378.96 L386.17,1374.00 L388.19,1369.04 L390.20,1364.07 L392.21,1359.11 L394.23,1354.15 L396.24,1349.19 L398.26,1344.23 L400.27,1339.28 L402.28,1334.32 L404.30,1329.36 L406.31,1324.41 L408.32,1319.46 L410.34,1314.51 L412.35,1309.56 L414.36,1304.61 L416.38,1299.66 L418.39,1294.74 L420.40,1289.81 L422.42,1284.88 L424.43,1279.96 L426.44,1275.03 L428.46,1270.10 L430.47,1265.18 L432.48,1260.26 L434.50,1255.33 L436.51,1250.41 L438.53,1245.49 L440.54,1240.57 L442.55,1235.65 L444.57,1230.73 L446.58,1225.82 L448.59,1220.90 L450.61,1215.99 L452.62,1211.08 L454.63,1206.17 L456.65,1201.26 L458.66,1196.36 L460.67,1191.45 L462.69,1186.55 L464.70,1181.65 L466.71,1176.75 L468.73,1171.86 L470.74,1166.96 L472.76,1162.07 L474.77,1157.19 L476.78,1152.30 L478.80,1147.42 L480.81,1142.54 L482.82,1137.66 L484.84,1132.79 L486.85,1127.92 L488.86,1123.06 L490.88,1118.19 L492.89,1113.34 L494.90,1108.48 L496.92,1103.63 L498.93,1098.79 L500.94,1093.95 L502.96,1089.12 L504.97,1084.30 L506.99,1079.48 L509.00,1074.68 L511.01,1069.88 L513.03,1065.09 L515.04,1060.32 L517.05,1055.55 L519.07,1050.80 L521.08,1046.06 L523.09,1041.33 L525.11,1036.61 L527.12,1031.91 L529.13,1027.22 L531.15,1022.55 L533.16,1017.89 L535.17,1013.26 L537.19,1008.63 L539.20,1004.03 L541.22,999.44 L543.23,994.87 L545.24,990.33 L547.26,985.80 L549.27,981.29 L551.28,976.81 L553.30,972.34 L555.31,967.90 L557.32,963.48 L559.34,959.09 L561.35,954.72 L563.36,950.37 L565.38,946.06 L567.39,941.76 L569.40,937.50 L571.42,933.26 L573.43,929.05 L575.45,924.86 L577.46,920.71 L579.47,916.59 L581.49,912.49 L583.50,908.43 L585.51,904.40 L587.53,900.40 L589.54,896.44 L591.55,892.51 L593.57,888.61 L595.58,884.75 L597.59,880.92 L599.61,877.13 L601.62,873.38 L603.63,869.66 L605.65,865.98 L607.66,862.34 L609.67,858.74 L611.69,855.18 L613.70,851.66 L615.72,848.18 L617.73,844.74 L619.74,841.34 L621.76,837.98 L623.77,834.67 L625.78,831.40 L627.80,828.18 L629.81,825.00 L631.82,821.86 L633.84,818.77 L635.85,815.73 L637.86,812.73 L639.88,809.77 L641.89,806.87 L643.90,804.01 L645.92,801.19 L647.93,798.43 L649.95,795.71 L651.96,793.03 L653.97,790.41 L655.99,787.83 L658.00,785.30 L660.01,782.81 L662.03,780.38 L664.04,777.99 L666.05,775.64 L668.07,773.34 L670.08,771.09 L672.09,768.88 L674.11,766.72 L676.12,764.59 L678.13,762.52 L680.15,760.48 L682.16,758.49 L684.18,756.54 L686.19,754.62 L688.20,752.75 L690.22,750.91 L692.23,749.12 L694.24,747.36 L696.26,745.63 L698.27,743.94 L700.28,742.28 L702.30,740.66 L704.31,739.07 L706.32,737.51 L708.34,735.98 L710.35,734.48 L712.36,733.00 L714.38,731.56 L716.39,730.14 L718.41,728.74 L720.42,727.37 L722.43,726.03 L724.45,724.70 L726.46,723.40 L728.47,722.11 L730.49,720.85 L732.50,719.61 L734.51,718.38 L736.53,717.17 L738.54,715.98 L740.55,714.80 L742.57,713.64 L744.58,712.48 L746.59,711.34 L748.61,710.20 L750.62,709.07 L752.64,707.95 L754.65,706.82 L756.66,705.69 L758.68,704.55 L760.69,703.42 L762.70,702.27 L764.72,701.11 L766.73,699.95 L768.74,698.78 L770.76,697.60 L772.77,696.42 L774.78,695.22 L776.80,694.02 L778.81,692.82 L780.82,691.60 L782.84,690.39 L784.85,689.16 L786.86,687.93 L788.88,686.70 L790.89,685.47 L792.91,684.23 L794.92,682.98 L796.93,681.74 L798.95,680.49 L800.96,679.25 L802.97,677.99 L804.99,676.74 L807.00,675.49 L809.01,674.23 L811.03,672.96 L813.04,671.69 L815.05,670.42 L817.07,669.14 L819.08,667.86 L821.09,666.56 L823.11,665.26 L825.12,663.96 L827.14,662.64 L829.15,661.32 L831.16,659.99 L831.60,659.70 L833.18,661.05 L835.19,662.77 L837.20,664.48 L839.22,666.19 L841.23,667.88 L843.24,669.57 L845.26,671.24 L847.27,672.89 L849.28,674.53 L851.30,676.16 L853.31,677.76 L855.32,679.35 L857.34,680.92 L859.35,682.46 L861.37,683.98 L863.38,685.48 L865.39,686.95 L867.41,688.39 L869.42,689.81 L871.43,691.19 L873.45,692.54 L875.46,693.85 L877.47,695.12 L879.49,696.35 L881.50,697.52 L883.51,698.66 L885.53,699.74 L887.54,700.77 L889.55,701.76 L891.57,702.69 L893.58,703.57 L895.60,704.40 L897.61,705.18 L899.62,705.90 L901.64,706.57 L903.65,707.19 L905.66,707.76 L907.68,708.27 L909.69,708.73 L911.70,709.14 L913.72,709.49 L915.73,709.80 L917.74,710.05 L919.76,710.26 L921.77,710.41 L923.78,710.51 L925.80,710.56 L927.81,710.57 L929.83,710.52 L931.84,710.43 L933.85,710.28 L935.87,710.09 L937.88,709.85 L939.89,709.57 L941.91,709.23 L943.92,708.85 L945.93,708.43 L947.95,707.96 L949.96,707.44 L951.97,706.88 L953.99,706.27 L956.00,705.62 L958.01,704.93 L960.03,704.19 L962.04,703.42 L964.05,702.60 L966.07,701.74 L968.08,700.84 L970.10,699.91 L972.11,698.93 L974.12,697.93 L976.14,696.88 L978.15,695.80 L980.16,694.69 L982.18,693.55 L984.19,692.37 L986.20,691.17 L988.22,689.94 L990.23,688.67 L992.24,687.39 L994.26,686.07 L996.27,684.73 L998.28,683.37 L1000.30,681.98 L1002.31,680.57 L1004.33,679.14 L1006.34,677.69 L1008.35,676.22 L1010.37,674.74 L1012.38,673.23 L1014.39,671.71 L1016.41,670.18 L1018.42,668.63 L1020.43,667.07 L1022.45,665.50 L1024.46,663.92 L1026.47,662.33 L1028.49,660.73 L1030.50,659.12 L1032.51,657.51 L1034.53,655.89 L1036.54,654.27 L1038.56,652.64 L1040.57,651.00 L1042.58,649.36 L1044.60,647.72 L1046.61,646.08 L1048.62,644.43 L1050.64,642.79 L1052.65,641.14 L1054.66,639.49 L1056.68,637.85 L1058.69,636.20 L1060.70,634.55 L1062.72,632.91 L1064.73,631.27 L1066.74,629.63 L1068.76,627.99 L1070.77,626.36 L1072.79,624.73 L1074.80,623.11 L1076.81,621.49 L1078.83,619.88 L1080.84,618.27 L1082.85,616.66 L1084.87,615.06 L1086.88,613.47 L1088.89,611.89 L1090.91,610.31 L1092.92,608.74 L1094.93,607.17 L1096.95,605.61 L1098.96,604.06 L1100.97,602.52 L1102.99,600.98 L1105.00,599.46 L1107.02,597.94 L1109.03,596.43 L1111.04,594.93 L1113.06,593.43 L1115.07,591.95 L1117.08,590.47 L1119.10,589.01 L1121.11,587.55 L1123.12,586.10 L1125.14,584.66 L1127.15,583.23 L1129.16,581.82 L1131.18,580.41 L1133.19,579.01 L1135.20,577.62 L1137.22,576.24 L1139.23,574.86 L1141.24,573.50 L1143.26,572.15 L1145.27,570.81 L1147.29,569.48 L1149.30,568.16 L1151.31,566.85 L1153.33,565.54 L1155.34,564.25 L1157.35,562.96 L1159.37,561.68 L1161.38,560.41 L1163.39,559.15 L1165.41,557.90 L1167.42,556.65 L1169.43,555.42 L1171.45,554.19 L1173.46,552.96 L1175.47,551.75 L1177.49,550.54 L1179.50,549.34 L1181.52,548.14 L1183.53,546.95 L1185.54,545.77 L1187.56,544.59 L1189.57,543.42 L1191.58,542.26 L1193.60,541.10 L1195.61,539.95 L1197.62,538.80 L1199.64,537.66 L1201.65,536.52 L1203.66,535.39 L1205.68,534.26 L1207.69,533.14 L1209.70,532.02 L1211.72,530.91 L1213.73,529.80 L1215.75,528.70 L1217.76,527.60 L1219.77,526.51 L1221.79,525.42 L1223.80,524.33 L1225.81,523.25 L1227.83,522.17 L1229.84,521.10 L1231.85,520.03 L1233.87,518.96 L1235.88,517.89 L1237.89,516.83 L1239.91,515.78 L1241.92,514.72 L1243.93,513.67 L1245.95,512.62 L1247.96,511.58 L1249.98,510.53 L1251.99,509.49 L1254.00,508.46 L1256.02,507.42 L1258.03,506.39 L1260.04,505.36 L1262.06,504.33 L1264.07,503.31 L1266.08,502.28 L1268.10,501.26 L1270.11,500.24 L1272.12,499.22 L1274.14,498.21 L1276.15,497.19 L1278.16,496.18 L1280.18,495.17 L1282.19,494.16 L1284.21,493.15 L1286.22,492.15 L1288.23,491.14 L1290.25,490.14 L1292.26,489.13 L1294.27,488.13 L1296.29,487.13 L1298.30,486.13 L1300.31,485.13 L1302.33,484.13 L1304.34,483.13 L1306.35,482.13 L1308.37,481.14 L1310.38,480.14 L1312.39,479.14 L1314.41,478.14 L1316.42,477.15 L1318.43,476.15 L1320.45,475.15 L1322.46,474.16 L1324.48,473.16 L1326.49,472.16 L1328.50,471.17 L1330.52,470.17 L1332.53,469.17 L1334.54,468.17 L1336.56,467.17 L1338.57,466.17 L1340.58,465.17 L1342.60,464.17 L1344.61,463.17 L1346.62,462.16 L1348.64,461.16 L1350.65,460.15 L1352.66,459.14 L1354.68,458.13 L1356.69,457.12 L1358.71,456.11 L1360.72,455.10 L1362.73,454.08 L1364.75,453.07 L1366.76,452.05 L1368.77,451.03 L1370.79,450.00 L1372.80,448.98" fill="none" stroke="#EE3A50" stroke-width="3.08" stroke-linecap="round" stroke-dasharray="0 12.345" stroke-dashoffset="-0.1"/>
<path d="M166.70,1173.33 L168.71,1171.30 L170.73,1169.28 L172.74,1167.25 L174.75,1165.22 L176.77,1163.19 L178.78,1161.16 L180.79,1159.13 L182.81,1157.11 L184.82,1155.08 L186.84,1153.05 L188.85,1151.02 L190.86,1148.99 L192.88,1146.97 L194.89,1144.94 L196.90,1142.91 L198.92,1140.88 L200.93,1138.85 L202.94,1136.83 L204.96,1134.80 L206.97,1132.77 L208.98,1130.74 L211.00,1128.72 L213.01,1126.69 L215.02,1124.66 L217.04,1122.63 L219.05,1120.61 L221.07,1118.58 L223.08,1116.55 L225.09,1114.53 L227.11,1112.50 L229.12,1110.47 L231.13,1108.45 L233.15,1106.42 L235.16,1104.39 L237.17,1102.37 L239.19,1100.34 L241.20,1098.31 L243.21,1096.29 L245.23,1094.26 L247.24,1092.23 L249.25,1090.21 L251.27,1088.18 L253.28,1086.15 L255.29,1084.13 L257.31,1082.10 L259.32,1080.08 L261.34,1078.05 L263.35,1076.02 L265.36,1074.00 L267.38,1071.97 L269.39,1069.95 L271.40,1067.92 L273.42,1065.90 L275.43,1063.87 L277.44,1061.84 L279.46,1059.82 L281.47,1057.79 L283.48,1055.77 L285.50,1053.74 L287.51,1051.72 L289.52,1049.69 L291.54,1047.67 L293.55,1045.64 L295.57,1043.62 L297.58,1041.59 L299.59,1039.57 L301.61,1037.54 L303.62,1035.52 L305.63,1033.49 L307.65,1031.47 L309.66,1029.44 L311.67,1027.42 L313.69,1025.39 L315.70,1023.37 L317.71,1021.35 L319.73,1019.32 L321.74,1017.30 L323.75,1015.27 L325.77,1013.25 L327.78,1011.22 L329.80,1009.20 L331.81,1007.18 L333.82,1005.15 L335.84,1003.13 L337.85,1001.10 L339.86,999.08 L341.88,997.06 L343.89,995.03 L345.90,993.01 L347.92,990.99 L349.93,988.96 L351.94,986.94 L353.96,984.92 L355.97,982.89 L357.98,980.87 L360.00,978.85 L362.01,976.82 L364.03,974.80 L366.04,972.78 L368.05,970.75 L370.07,968.73 L372.08,966.71 L374.09,964.68 L376.11,962.66 L378.12,960.64 L380.13,958.61 L382.15,956.59 L384.16,954.57 L386.17,952.55 L388.19,950.52 L390.20,948.50 L392.21,946.48 L394.23,944.46 L396.24,942.43 L398.26,940.41 L400.27,938.39 L402.28,936.37 L404.30,934.34 L406.31,932.32 L408.32,930.30 L410.34,928.28 L412.35,926.26 L414.36,924.23 L416.38,922.21 L418.39,920.19 L420.40,918.17 L422.42,916.15 L424.43,914.12 L426.44,912.10 L428.46,910.08 L430.47,908.06 L432.48,906.04 L434.50,904.01 L436.51,901.99 L438.53,899.97 L440.54,897.95 L442.55,895.93 L444.57,893.91 L446.58,891.89 L448.59,889.86 L450.61,887.84 L452.62,885.82 L454.63,883.80 L456.65,881.78 L458.66,879.76 L460.67,877.74 L462.69,875.72 L464.70,873.70 L466.71,871.68 L468.73,869.65 L470.74,867.63 L472.76,865.61 L474.77,863.59 L476.78,861.57 L478.80,859.55 L480.81,857.53 L482.82,855.51 L484.84,853.49 L486.85,851.47 L488.86,849.45 L490.88,847.43 L492.89,845.41 L494.90,843.39 L496.92,841.37 L498.93,839.35 L500.94,837.33 L502.96,835.31 L504.97,833.30 L506.99,831.28 L509.00,829.27 L511.01,827.26 L513.03,825.25 L515.04,823.25 L517.05,821.24 L519.07,819.24 L521.08,817.24 L523.09,815.25 L525.11,813.26 L527.12,811.27 L529.13,809.28 L531.15,807.30 L533.16,805.32 L535.17,803.35 L537.19,801.38 L539.20,799.42 L541.22,797.46 L543.23,795.51 L545.24,793.56 L547.26,791.61 L549.27,789.68 L551.28,787.74 L553.30,785.82 L555.31,783.90 L557.32,781.98 L559.34,780.08 L561.35,778.18 L563.36,776.28 L565.38,774.40 L567.39,772.52 L569.40,770.65 L571.42,768.78 L573.43,766.93 L575.45,765.08 L577.46,763.24 L579.47,761.41 L581.49,759.59 L583.50,757.78 L585.51,755.97 L587.53,754.18 L589.54,752.39 L591.55,750.62 L593.57,748.85 L595.58,747.10 L597.59,745.35 L599.61,743.62 L601.62,741.89 L603.63,740.18 L605.65,738.48 L607.66,736.79 L609.67,735.11 L611.69,733.44 L613.70,731.78 L615.72,730.14 L617.73,728.51 L619.74,726.89 L621.76,725.28 L623.77,723.69 L625.78,722.11 L627.80,720.54 L629.81,718.99 L631.82,717.45 L633.84,715.92 L635.85,714.41 L637.86,712.92 L639.88,711.43 L641.89,709.97 L643.90,708.51 L645.92,707.08 L647.93,705.65 L649.95,704.25 L651.96,702.86 L653.97,701.48 L655.99,700.12 L658.00,698.78 L660.01,697.46 L662.03,696.15 L664.04,694.85 L666.05,693.58 L668.07,692.32 L670.08,691.08 L672.09,689.86 L674.11,688.66 L676.12,687.47 L678.13,686.31 L680.15,685.16 L682.16,684.03 L684.18,682.92 L686.19,681.83 L688.20,680.76 L690.22,679.70 L692.23,678.67 L694.24,677.66 L696.26,676.67 L698.27,675.70 L700.28,674.75 L702.30,673.83 L704.31,672.92 L706.32,672.04 L708.34,671.18 L710.35,670.34 L712.36,669.53 L714.38,668.74 L716.39,667.98 L718.41,667.24 L720.42,666.53 L722.43,665.84 L724.45,665.18 L726.46,664.54 L728.47,663.93 L730.49,663.35 L732.50,662.79 L734.51,662.27 L736.53,661.77 L738.54,661.30 L740.55,660.85 L742.57,660.44 L744.58,660.05 L746.59,659.69 L748.61,659.35 L750.62,659.03 L752.64,658.73 L754.65,658.45 L756.66,658.19 L758.68,657.95 L760.69,657.72 L762.70,657.51 L764.72,657.31 L766.73,657.13 L768.74,656.97 L770.76,656.82 L772.77,656.70 L774.78,656.59 L776.80,656.50 L778.81,656.43 L780.82,656.38 L782.84,656.35 L784.85,656.34 L786.86,656.35 L788.88,656.37 L790.89,656.41 L792.91,656.47 L794.92,656.55 L796.93,656.64 L798.95,656.75 L800.96,656.87 L802.97,657.01 L804.99,657.16 L807.00,657.32 L809.01,657.49 L811.03,657.67 L813.04,657.85 L815.05,658.04 L817.07,658.24 L819.08,658.44 L821.09,658.65 L823.11,658.85 L825.12,659.06 L827.14,659.26 L829.15,659.46 L831.16,659.66 L831.60,659.70 L833.18,659.85 L835.19,660.03 L837.20,660.21 L839.22,660.38 L841.23,660.54 L843.24,660.68 L845.26,660.82 L847.27,660.94 L849.28,661.05 L851.30,661.15 L853.31,661.24 L855.32,661.32 L857.34,661.38 L859.35,661.43 L861.37,661.47 L863.38,661.49 L865.39,661.50 L867.41,661.50 L869.42,661.48 L871.43,661.44 L873.45,661.40 L875.46,661.33 L877.47,661.24 L879.49,661.14 L881.50,661.00 L883.51,660.85 L885.53,660.67 L887.54,660.46 L889.55,660.23 L891.57,659.97 L893.58,659.68 L895.60,659.36 L897.61,659.02 L899.62,658.64 L901.64,658.24 L903.65,657.80 L905.66,657.34 L907.68,656.84 L909.69,656.32 L911.70,655.76 L913.72,655.18 L915.73,654.57 L917.74,653.93 L919.76,653.26 L921.77,652.56 L923.78,651.84 L925.80,651.09 L927.81,650.31 L929.83,649.51 L931.84,648.68 L933.85,647.82 L935.87,646.94 L937.88,646.03 L939.89,645.09 L941.91,644.13 L943.92,643.15 L945.93,642.14 L947.95,641.11 L949.96,640.05 L951.97,638.97 L953.99,637.87 L956.00,636.74 L958.01,635.59 L960.03,634.42 L962.04,633.22 L964.05,632.01 L966.07,630.77 L968.08,629.51 L970.10,628.23 L972.11,626.92 L974.12,625.60 L976.14,624.26 L978.15,622.89 L980.16,621.51 L982.18,620.11 L984.19,618.68 L986.20,617.24 L988.22,615.78 L990.23,614.30 L992.24,612.80 L994.26,611.28 L996.27,609.75 L998.28,608.20 L1000.30,606.63 L1002.31,605.04 L1004.33,603.44 L1006.34,601.82 L1008.35,600.18 L1010.37,598.53 L1012.38,596.86 L1014.39,595.17 L1016.41,593.47 L1018.42,591.75 L1020.43,590.02 L1022.45,588.28 L1024.46,586.52 L1026.47,584.74 L1028.49,582.95 L1030.50,581.15 L1032.51,579.34 L1034.53,577.51 L1036.54,575.67 L1038.56,573.81 L1040.57,571.94 L1042.58,570.07 L1044.60,568.17 L1046.61,566.27 L1048.62,564.36 L1050.64,562.43 L1052.65,560.49 L1054.66,558.55 L1056.68,556.59 L1058.69,554.62 L1060.70,552.64 L1062.72,550.65 L1064.73,548.66 L1066.74,546.65 L1068.76,544.63 L1070.77,542.61 L1072.79,540.58 L1074.80,538.54 L1076.81,536.49 L1078.83,534.43 L1080.84,532.37 L1082.85,530.29 L1084.87,528.21 L1086.88,526.13 L1088.89,524.04 L1090.91,521.94 L1092.92,519.83 L1094.93,517.72 L1096.95,515.61 L1098.96,513.49 L1100.97,511.36 L1102.99,509.23 L1105.00,507.10 L1107.02,504.96 L1109.03,502.81 L1111.04,500.67 L1113.06,498.52 L1115.07,496.36 L1117.08,494.21 L1119.10,492.05 L1121.11,489.89 L1123.12,487.72 L1125.14,485.55 L1127.15,483.39 L1129.16,481.22 L1131.18,479.05 L1133.19,476.87 L1135.20,474.70 L1137.22,472.53 L1139.23,470.35 L1141.24,468.18 L1143.26,466.01 L1145.27,463.84 L1147.29,461.66 L1149.30,459.49 L1151.31,457.32 L1153.33,455.15 L1155.34,452.98 L1157.35,450.81 L1159.37,448.64 L1161.38,446.47 L1163.39,444.30 L1165.41,442.14 L1167.42,439.97 L1169.43,437.80 L1171.45,435.64 L1173.46,433.47 L1175.47,431.30 L1177.49,429.14 L1179.50,426.98 L1181.52,424.81 L1183.53,422.65 L1185.54,420.48 L1187.56,418.32 L1189.57,416.16 L1191.58,413.99 L1193.60,411.83 L1195.61,409.67 L1197.62,407.51 L1199.64,405.35 L1201.65,403.18 L1203.66,401.02 L1205.68,398.86 L1207.69,396.70 L1209.70,394.54 L1211.72,392.38 L1213.73,390.22 L1215.75,388.06 L1217.76,385.90 L1219.77,383.74 L1221.79,381.58 L1223.80,379.42 L1225.81,377.26 L1227.83,375.10 L1229.84,372.94 L1231.85,370.79 L1233.87,368.63 L1235.88,366.47 L1237.89,364.31 L1239.91,362.15 L1241.92,359.99 L1243.93,357.83 L1245.95,355.67 L1247.96,353.51 L1249.98,351.35 L1251.99,349.20 L1254.00,347.04 L1256.02,344.88 L1258.03,342.72 L1260.04,340.56 L1262.06,338.40 L1264.07,336.24 L1266.08,334.08 L1268.10,331.92 L1270.11,329.76 L1272.12,327.60 L1274.14,325.44 L1276.15,323.28 L1278.16,321.12 L1280.18,318.95 L1282.19,316.79 L1284.21,314.63 L1286.22,312.47 L1288.23,310.31 L1290.25,308.15 L1292.26,305.98 L1294.27,303.82 L1296.29,301.66 L1298.30,299.49 L1300.31,297.33 L1302.33,295.16 L1304.34,293.00 L1306.35,290.83 L1308.37,288.67 L1310.38,286.50 L1312.39,284.34 L1314.41,282.17 L1316.42,280.00 L1318.43,277.83 L1320.45,275.67 L1322.46,273.50 L1324.48,271.33 L1326.49,269.16 L1328.50,266.99 L1330.52,264.82 L1332.53,262.65 L1334.54,260.48 L1336.56,258.30 L1338.57,256.13 L1340.58,253.96 L1342.60,251.78 L1344.61,249.61 L1346.62,247.43 L1348.64,245.26 L1350.65,243.08 L1352.66,240.90 L1354.68,238.73 L1356.69,236.55 L1358.71,234.37 L1360.72,232.19 L1362.73,230.01 L1364.75,227.83 L1366.76,225.64 L1368.77,223.46 L1370.79,221.28 L1372.80,219.09" fill="none" stroke="#F75D5C" stroke-width="4.6" stroke-linecap="round" stroke-linejoin="round"/>
</g>
<path d="M118.55,7.75 L118.55,1311.4 L1421.2,1311.4" fill="none" stroke="#000" stroke-width="3.08" stroke-linejoin="round" stroke-linecap="round"/>
<g stroke="#0B8383" stroke-width="2.316" stroke-linecap="round" stroke-dasharray="6.95 11.58" fill="none">
<line x1="118.21" y1="659.7" x2="1420.10" y2="659.7"/>
<line x1="831.6" y1="1311.44" x2="831.6" y2="7.75"/>
</g>
<g stroke="#000" stroke-width="1.54"><line x1="103.2" y1="56.20" x2="118.55" y2="56.20"/><line x1="103.2" y1="237.87" x2="118.55" y2="237.87"/><line x1="103.2" y1="478.03" x2="118.55" y2="478.03"/><line x1="103.2" y1="659.70" x2="118.55" y2="659.70"/><line x1="103.2" y1="841.37" x2="118.55" y2="841.37"/><line x1="103.2" y1="1081.53" x2="118.55" y2="1081.53"/><line x1="103.2" y1="1263.20" x2="118.55" y2="1263.20"/><line x1="321.30" y1="1311.4" x2="321.30" y2="1326.6"/><line x1="630.60" y1="1311.4" x2="630.60" y2="1326.6"/><line x1="939.90" y1="1311.4" x2="939.90" y2="1326.6"/><line x1="1249.20" y1="1311.4" x2="1249.20" y2="1326.6"/></g>
<g font-size="24.6px" fill="#000"><text x="89.2" y="64.80" text-anchor="end">10.0</text><text x="89.2" y="246.47" text-anchor="end">5.0</text><text x="89.2" y="486.63" text-anchor="end">2.0</text><text x="89.2" y="668.30" text-anchor="end">1.0</text><text x="89.2" y="849.97" text-anchor="end">0.5</text><text x="89.2" y="1090.13" text-anchor="end">0.2</text><text x="89.2" y="1271.80" text-anchor="end">0.1</text><text x="321.30" y="1364.7" text-anchor="middle">0.2</text><text x="630.60" y="1364.7" text-anchor="middle">0.4</text><text x="939.90" y="1364.7" text-anchor="middle">0.6</text><text x="1249.20" y="1364.7" text-anchor="middle">0.8</text>
<text x="770" y="1423.8" text-anchor="middle">FI_Lab</text>
<text transform="translate(23.8,659.5) rotate(-90)" text-anchor="middle">Hazard Ratio</text>
</g>
</svg>
</body></html>
